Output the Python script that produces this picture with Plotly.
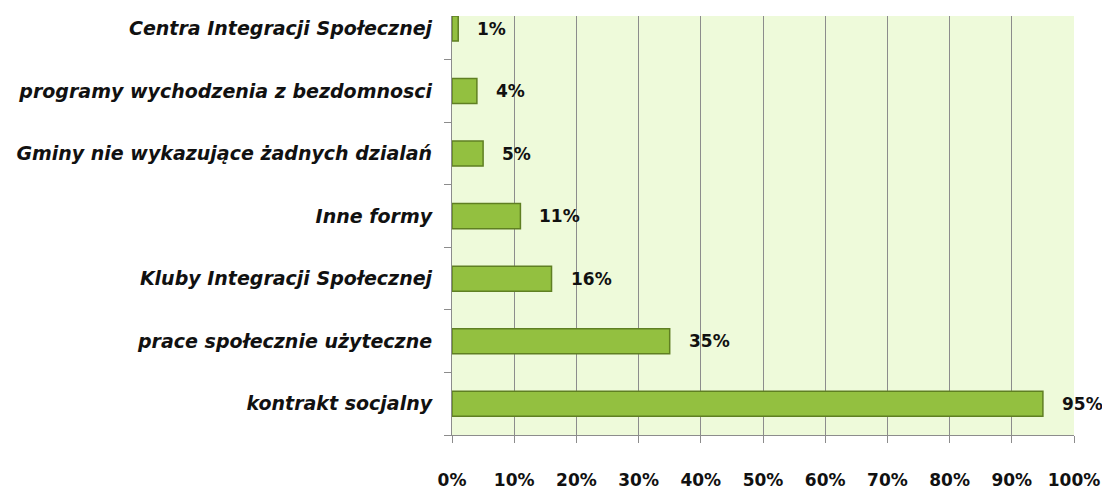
import plotly.graph_objects as go

categories = ["kontrakt socjalny", "prace społecznie użyteczne", "Kluby Integracji Społecznej",
              "Inne formy", "Gminy nie wykazujące żadnych dzialań",
              "programy wychodzenia z bezdomnosci", "Centra Integracji Społecznej"]
values = [95, 35, 16, 11, 5, 4, 1]
labels = ["95%", "35%", "16%", "11%", "5%", "4%", "1%"]
tick_vals = [0, 10, 20, 30, 40, 50, 60, 70, 80, 90, 100]
tick_text = ["0%", "10%", "20%", "30%", "40%", "50%", "60%", "70%", "80%", "90%", "100%"]

FONT = "DejaVu Sans"

fig = go.Figure()
fig.add_trace(go.Bar(
    y=categories, x=values, orientation="h", width=0.4,
    marker=dict(color="#93C040", line=dict(color="#5F7F22", width=1.5)),
    hoverinfo="skip",
))
for c, v, t in zip(categories, values, labels):
    fig.add_annotation(x=v, y=c, text="<b>" + t + "</b>", showarrow=False,
                       xanchor="left", xshift=17,
                       font=dict(family=FONT, size=17, color="#111"))

fig.update_layout(
    width=1102, height=490,
    margin=dict(l=444, r=36, t=8, b=45),
    paper_bgcolor="white", plot_bgcolor="#EEFADA",
    showlegend=False,
    font=dict(family=FONT, size=17, color="#111"),
)
fig.update_xaxes(range=[0, 100], tickvals=tick_vals, ticktext=["<b>" + t + "</b>" for t in tick_text],
                 showgrid=True, gridcolor="#8C8C8C", gridwidth=1.2,
                 showline=True, linecolor="#8C8C8C", linewidth=1.2,
                 ticks="outside", ticklen=7, tickcolor="#8C8C8C",
                 ticklabelstandoff=22, zeroline=False, mirror=False)
fig.update_yaxes(range=[-0.5, 6.2], categoryorder="array", categoryarray=categories,
                 tickvals=categories, ticktext=["<b><i>" + c + "</i></b>" for c in categories],
                 tickfont=dict(family=FONT, size=19, color="#111"),
                 tickson="boundaries", ticks="outside", ticklen=7, tickcolor="#8C8C8C",
                 showline=True, linecolor="#8C8C8C", linewidth=1.2, showgrid=False,
                 ticklabelstandoff=15)
fig.write_html("out.html")
